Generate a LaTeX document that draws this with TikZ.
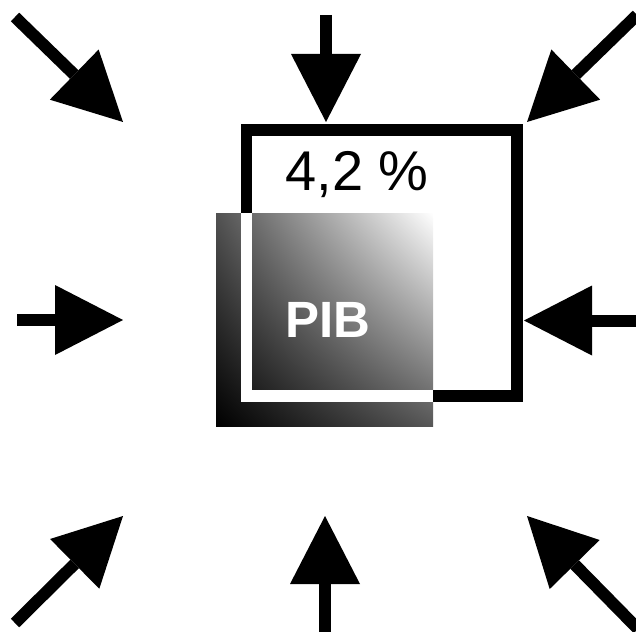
\documentclass[tikz,border=0pt]{standalone}
\usepackage{fontspec}
\setmainfont{Liberation Sans}
\usetikzlibrary{arrows.meta,shadings}
\begin{document}
\begin{tikzpicture}[x=1pt,y=-1pt,
  bigarrow/.style={line width=12pt, line cap=butt, -{Triangle[length=68pt,width=70pt,line width=0pt]}},
  frameline/.style={line width=11.8pt, line join=miter, line cap=butt}]
\useasboundingbox (0,0) rectangle (636,631);
\clip (0,0) rectangle (636,631);
% gradient square
\shade[upper left=black!68, upper right=white, lower left=black, lower right=black!66] (216,213) rectangle (433,426);
% frame: white part over the shaded square, black part elsewhere
\draw[frameline, white] (246.5,212.7) -- (246.5,396) -- (433,396);
\draw[frameline, black] (246.5,212.7) -- (246.5,130) -- (517.2,130) -- (517.2,396) -- (433,396);
% texts
\node[name=pct, anchor=base, inner sep=0pt, font=\fontsize{56}{67}\selectfont] at (357,190) {4,2 \%};
\node[name=pib, anchor=base, inner sep=0pt, text=white, font=\fontsize{51}{61}\selectfont\bfseries] at (328,337) {PIB};
% arrow end points
\coordinate (tlT) at (15,17);   \coordinate (tlH) at (123,122);
\coordinate (tT)  at (326,15);  \coordinate (tH)  at (326,122);
\coordinate (trT) at (637,15);  \coordinate (trH) at (527,122);
\coordinate (lT)  at (17,320);  \coordinate (lH)  at (123,320);
\coordinate (rT)  at (636,320.5); \coordinate (rH) at (524,320.5);
\coordinate (blT) at (15,623);  \coordinate (blH) at (123,516);
\coordinate (bT)  at (325,632); \coordinate (bH)  at (325,516);
\coordinate (brT) at (638,629); \coordinate (brH) at (527,516);
% arrows
\draw[bigarrow] (tlT) -- (tlH);
\draw[bigarrow] (tT) -- (tH);
\draw[bigarrow] (trT) -- (trH);
\draw[bigarrow] (lT) -- (lH);
\draw[bigarrow] (rT) -- (rH);
\draw[bigarrow] (blT) -- (blH);
\draw[bigarrow] (bT) -- (bH);
\draw[bigarrow] (brT) -- (brH);
\end{tikzpicture}
\end{document}
